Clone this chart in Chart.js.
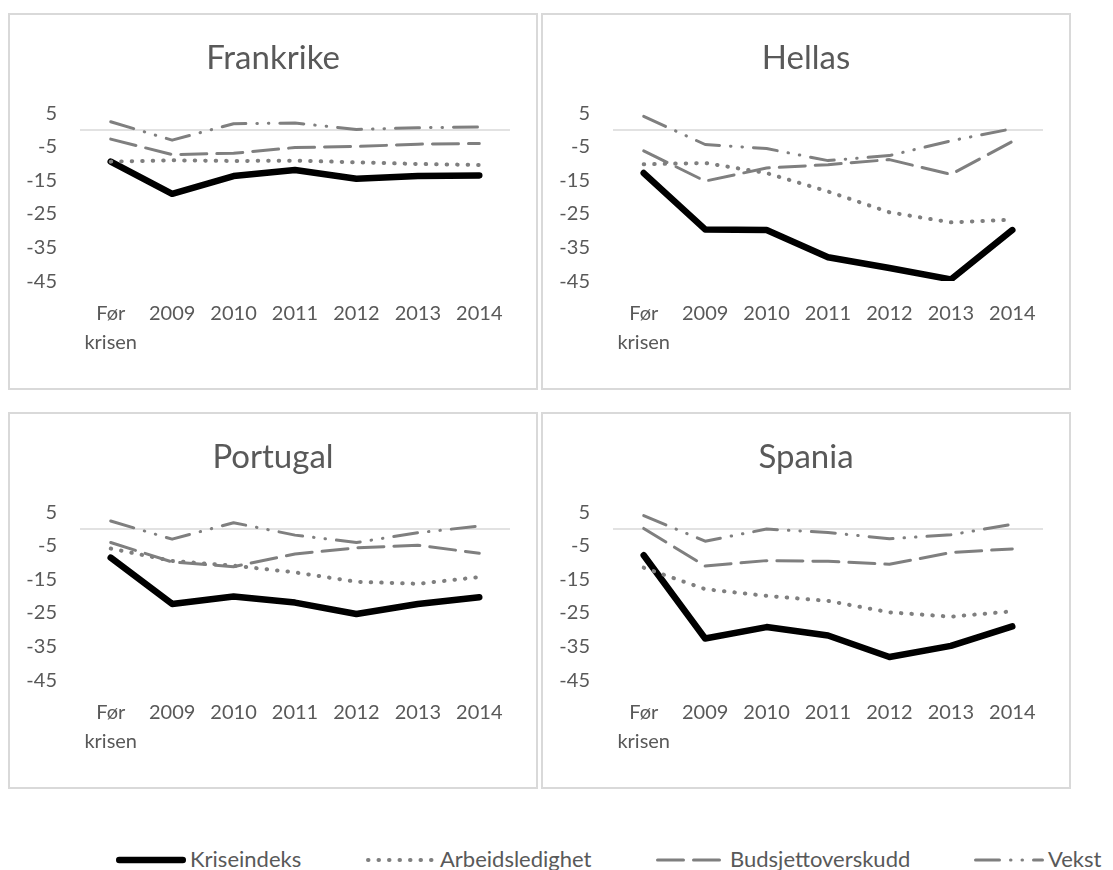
<!DOCTYPE html>
<html>
<head>
<meta charset="utf-8">
<title>Kriseindeks</title>
<script src="https://cdn.jsdelivr.net/npm/chart.js@4.4.1/dist/chart.umd.min.js"></script>
<style>
    body { margin: 0; background: #ffffff; font-family: Lato, sans-serif; }
    .panel { position: absolute; width: 530px; height: 377px; border: 2px solid #d9d9d9; box-sizing: border-box; }
    .panel canvas { display: block; }
    #legend { position: absolute; left: 0; top: 845px; width: 1113px; height: 28px; }
    .legend-item { position: absolute; top: 0; height: 28px; }
    .legend-item canvas { position: absolute; left: 0; top: 0; }
    .legend-item span { position: absolute; top: 0; line-height: 28px; font-size: 22px; color: #595959; white-space: nowrap; }
</style>
</head>
<body>
<div class="panel" style="left: 8px; top: 13px;"><canvas id="chart-frankrike" width="526" height="373"></canvas></div>
<div class="panel" style="left: 541px; top: 13px;"><canvas id="chart-hellas" width="526" height="373"></canvas></div>
<div class="panel" style="left: 8px; top: 412px;"><canvas id="chart-portugal" width="526" height="373"></canvas></div>
<div class="panel" style="left: 541px; top: 412px;"><canvas id="chart-spania" width="526" height="373"></canvas></div>
<div id="legend"></div>

<script>
// Categories and axis
const categories = [['Før', 'krisen'], '2009', '2010', '2011', '2012', '2013', '2014'];
const seriesNames = ['Kriseindeks', 'Arbeidsledighet', 'Budsjettoverskudd', 'Vekst'];
const yMin = -45;
const yMax = 5;
const yStep = 10;

// Frankrike
const frankrikeKrise = [-9.4, -19.0, -13.7, -11.9, -14.5, -13.7, -13.5];
const frankrikeArbeid = [-9.4, -9.0, -9.2, -9.1, -9.6, -10.1, -10.4];
const frankrikeBudsjett = [-2.7, -7.3, -6.9, -5.2, -4.9, -4.2, -4.0];
const frankrikeVekst = [2.5, -3.0, 1.9, 2.1, 0.2, 0.7, 0.9];

// Hellas
const hellasKrise = [-12.8, -29.6, -29.8, -37.9, -41.1, -44.5, -29.8];
const hellasArbeid = [-10.2, -9.8, -12.8, -18.3, -24.5, -27.5, -26.7];
const hellasBudsjett = [-6.2, -15.2, -11.3, -10.3, -8.8, -13.2, -3.4];
const hellasVekst = [4.1, -4.3, -5.5, -9.1, -7.6, -3.2, 0.4];

// Portugal
const portugalKrise = [-8.5, -22.3, -20.1, -21.9, -25.3, -22.3, -20.3];
const portugalArbeid = [-5.8, -9.5, -10.9, -12.9, -15.7, -16.3, -14.3];
const portugalBudsjett = [-4.0, -9.8, -11.2, -7.4, -5.6, -4.8, -7.2];
const portugalVekst = [2.4, -3.0, 1.9, -1.8, -4.0, -1.1, 0.9];

// Spania
const spaniaKrise = [-7.8, -32.6, -29.2, -31.7, -38.1, -34.8, -29.0];
const spaniaArbeid = [-11.5, -17.9, -19.9, -21.4, -24.8, -26.1, -24.5];
const spaniaBudsjett = [0.2, -11.0, -9.4, -9.6, -10.5, -7.0, -5.9];
const spaniaVekst = [4.0, -3.6, 0.0, -1.0, -2.9, -1.7, 1.4];

// Line styles, one per series (same order as seriesNames)
const seriesStyles = [
    { color: '#000000', width: 6.5, dash: [], order: 4 },
    { color: '#7f7f7f', width: 4, dash: [0.5, 10], order: 3 },
    { color: '#7f7f7f', width: 3, dash: [26, 10], order: 2 },
    { color: '#7f7f7f', width: 3, dash: [24, 11, 0.5, 11, 0.5, 11], order: 1 }
];

const textColor = '#595959';
const fontFamily = 'Lato, "Open Sans", sans-serif';

window.chartInstances = window.chartInstances || {};

/**
 * Thin gray line where the value axis crosses zero
 */
const zeroLinePlugin = {
    id: 'zeroLine',
    beforeDatasetsDraw(chart) {
        const area = chart.chartArea;
        const y = chart.scales.y.getPixelForValue(0);
        const ctx = chart.ctx;
        ctx.save();
        ctx.strokeStyle = '#d9d9d9';
        ctx.lineWidth = 1.5;
        ctx.beginPath();
        ctx.moveTo(area.left, y);
        ctx.lineTo(area.right, y);
        ctx.stroke();
        ctx.restore();
    }
};

/**
 * Build one country panel
 * @param {string} chartId - Canvas element ID
 * @param {string} title - Country name
 * @param {Array<Array<number>>} seriesValues - Values per series
 */
function initializePanel(chartId, title, seriesValues) {
    const datasets = seriesValues.map((values, i) => ({
        label: seriesNames[i],
        data: values,
        yAxisID: 'y',
        borderColor: seriesStyles[i].color,
        borderWidth: seriesStyles[i].width,
        borderDash: seriesStyles[i].dash,
        borderCapStyle: 'round',
        borderJoinStyle: 'round',
        order: seriesStyles[i].order,
        pointRadius: 0,
        pointHoverRadius: 0,
        tension: 0,
        fill: false
    }));

    const ctx = document.getElementById(chartId).getContext('2d');
    window.chartInstances[chartId] = new Chart(ctx, {
        type: 'line',
        data: { labels: categories, datasets: datasets },
        options: {
            responsive: false,
            animation: false,
            events: [],
            layout: { padding: { left: 0, right: 0, top: 0, bottom: 12.5 } },
            plugins: {
                legend: { display: false },
                tooltip: { enabled: false },
                title: {
                    display: true,
                    text: title,
                    color: textColor,
                    font: { family: fontFamily, size: 33, weight: 'normal', lineHeight: 1.2 },
                    padding: { top: 23.2, bottom: 35.5 }
                }
            },
            scales: {
                x: {
                    offset: true,
                    grid: { display: false, drawTicks: false },
                    border: { display: false },
                    ticks: {
                        color: textColor,
                        font: { family: fontFamily, size: 20, lineHeight: 1.46 },
                        padding: 18,
                        maxRotation: 0,
                        autoSkip: false
                    }
                },
                y: {
                    min: yMin,
                    max: yMax,
                    grid: { display: false, drawTicks: false },
                    border: { display: false },
                    ticks: {
                        stepSize: yStep,
                        color: textColor,
                        font: { family: fontFamily, size: 20 },
                        padding: 23
                    },
                    afterFit: function(scale) {
                        scale.width = 70;
                    }
                },
                // empty right-hand axis, only keeps a margin so the title stays centred on the panel
                yRight: {
                    axis: 'y',
                    position: 'right',
                    min: yMin,
                    max: yMax,
                    grid: { display: false, drawTicks: false },
                    border: { display: false },
                    ticks: { display: false },
                    afterFit: function(scale) {
                        scale.width = 26;
                    }
                }
            }
        },
        plugins: [zeroLinePlugin]
    });
}

/**
 * Draw the shared legend under the four panels
 */
function buildLegend() {
    const legend = document.getElementById('legend');
    const textLeft = [190, 440, 730, 1048];
    const sampleWidth = 70;

    seriesNames.forEach((name, i) => {
        const item = document.createElement('div');
        item.className = 'legend-item';
        item.style.left = (textLeft[i] - sampleWidth - 4) + 'px';

        const sample = document.createElement('canvas');
        sample.width = sampleWidth;
        sample.height = 28;
        const c = sample.getContext('2d');
        const style = seriesStyles[i];
        c.strokeStyle = style.color;
        c.lineWidth = style.width;
        c.lineCap = 'round';
        c.setLineDash(style.dash);
        c.beginPath();
        c.moveTo(style.width / 2, 15);
        c.lineTo(sampleWidth - style.width / 2, 15);
        c.stroke();

        const label = document.createElement('span');
        label.textContent = name;
        label.style.left = (sampleWidth + 4) + 'px';

        item.appendChild(sample);
        item.appendChild(label);
        legend.appendChild(item);
    });
}

initializePanel('chart-frankrike', 'Frankrike', [frankrikeKrise, frankrikeArbeid, frankrikeBudsjett, frankrikeVekst]);
initializePanel('chart-hellas', 'Hellas', [hellasKrise, hellasArbeid, hellasBudsjett, hellasVekst]);
initializePanel('chart-portugal', 'Portugal', [portugalKrise, portugalArbeid, portugalBudsjett, portugalVekst]);
initializePanel('chart-spania', 'Spania', [spaniaKrise, spaniaArbeid, spaniaBudsjett, spaniaVekst]);
buildLegend();
</script>
</body>
</html>
